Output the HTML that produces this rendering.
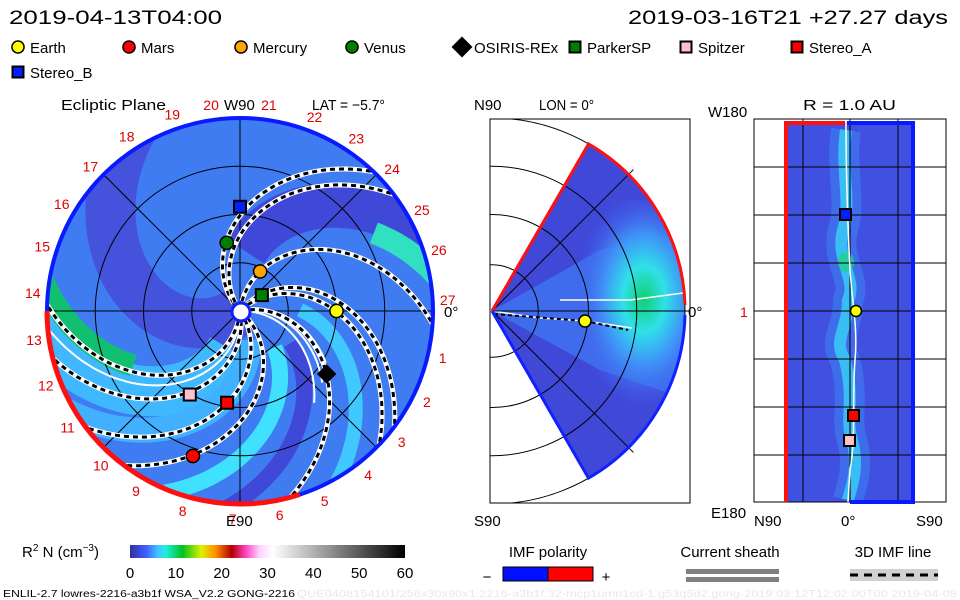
<!DOCTYPE html>
<html><head><meta charset="utf-8"><style>
html,body{margin:0;padding:0;background:#fff;}
svg{display:block;font-family:"Liberation Sans",sans-serif;}
</style></head><body>
<svg id="s" width="960" height="600" viewBox="0 0 960 600" xmlns="http://www.w3.org/2000/svg">
<defs>
 <clipPath id="cc"><circle cx="240" cy="311" r="193"/></clipPath>
 <clipPath id="wc"><path d="M492,311 L588.5,143.9 A193,193 0 0,1 588.5,478.1 Z"/></clipPath>
 <clipPath id="fc"><rect x="490" y="119" width="200" height="384"/></clipPath>
 <radialGradient id="wg" cx="0.6" cy="0.45" r="0.5">
  <stop offset="0" stop-color="#10d070"/><stop offset="0.3" stop-color="#30e0e8"/><stop offset="0.6" stop-color="#4090f8"/><stop offset="1" stop-color="#4058e8" stop-opacity="0"/>
 </radialGradient>
</defs>
<text x="9" y="24" font-size="19" textLength="213" lengthAdjust="spacingAndGlyphs">2019-04-13T04:00</text>
<text x="628" y="24" font-size="19" textLength="320" lengthAdjust="spacingAndGlyphs">2019-03-16T21 +27.27 days</text>
<g id="legend" font-size="15"></g>

<g>
 <text x="61" y="110" font-size="15" textLength="105" lengthAdjust="spacingAndGlyphs">Ecliptic Plane</text>
 <text x="312" y="110" font-size="15" textLength="73" lengthAdjust="spacingAndGlyphs">LAT = −5.7°</text>
 <g clip-path="url(#cc)">
  <circle cx="240" cy="311" r="193" fill="#3f7cf2"/>
  <g id="bands"></g>
  <g id="grid1" stroke="#000" stroke-width="1" fill="none"></g>
  <g id="sheath" fill="none" stroke="#fff" stroke-width="2"></g>
  <g id="arms" fill="none"></g>
 </g>
 <path id="ringblue" fill="none" stroke="#0a1aff" stroke-width="4"/>
 <path id="ringred" fill="none" stroke="#ff1010" stroke-width="5"/>
 <circle cx="241" cy="312" r="9" fill="#fff" stroke="#1020ff" stroke-width="3"/>
 <g id="dates" fill="#e00000" font-size="14"></g>
 <text x="224" y="110" font-size="15">W90</text>
 <text x="226" y="526" font-size="15">E90</text>
 <text x="444" y="317" font-size="15">0°</text>
 <g id="planets1"></g>
</g>

<g>
 <text x="474" y="110" font-size="15">N90</text>
 <text x="539" y="110" font-size="15" textLength="55" lengthAdjust="spacingAndGlyphs">LON = 0°</text>
 <text x="474" y="526" font-size="15">S90</text>
 <text x="688" y="317" font-size="15">0°</text>
 <g clip-path="url(#wc)">
  <rect x="490" y="119" width="200" height="384" fill="#4048d8"/>
  <path d="M492,311 L600,250 L690,230 L690,400 L600,370 Z" fill="#3f70f0" opacity="0.9"/>
  <rect x="560" y="200" width="140" height="220" fill="url(#wg)"/>
  <path d="M492,311 L540,318 L585,321 L632,328 M560,300 L630,300 L683,293" fill="none" stroke="#fff" stroke-width="1.5"/>
  <path d="M494,314 L585,321 L628,330" fill="none" stroke="#000" stroke-width="2" stroke-dasharray="4,3"/>
 </g>
 <g clip-path="url(#fc)" stroke="#000" fill="none" stroke-width="1" id="grid2"></g>
 <rect x="490" y="119" width="200" height="384" fill="none" stroke="#000" stroke-width="1"/>
 <path d="M492,311 L588.5,143.9 A193,193 0 0,1 685,305" fill="none" stroke="#ff1010" stroke-width="3"/>
 <path d="M492,311 L588.5,478.1 A193,193 0 0,0 685,315" fill="none" stroke="#1020ff" stroke-width="3"/>
 <circle cx="585" cy="321" r="6" fill="#ffff00" stroke="#000" stroke-width="1.5"/>
</g>

<g>
 <text x="803" y="110" font-size="15" textLength="93" lengthAdjust="spacingAndGlyphs">R = 1.0 AU</text>
 <text x="708" y="117" font-size="15">W180</text>
 <text x="711" y="518" font-size="15">E180</text>
 <text x="754" y="526" font-size="15">N90</text>
 <text x="841" y="526" font-size="15">0°</text>
 <text x="916" y="526" font-size="15">S90</text>
 <text x="740" y="317" font-size="14" fill="#e00000">1</text>
 <rect x="786" y="122" width="128" height="380" fill="#4050e0"/>
 <path d="M846,130 C840,170 852,200 843,230 C835,260 858,280 848,300 C848,330 832,340 845,360 C855,400 845,420 852,440 C860,470 850,490 848,500" fill="none" stroke="#3f8ff8" stroke-width="30" opacity="0.45"/>
 <path d="M846,130 C840,170 852,200 843,230 C835,260 858,280 848,300 C848,330 832,340 845,360 C855,400 845,420 852,440 C860,470 850,490 848,500" fill="none" stroke="#38d8f8" stroke-width="12" opacity="0.75"/>
 <ellipse cx="846" cy="262" rx="8" ry="10" fill="#20d090" opacity="0.8"/>
 <g id="grid3" stroke="#000" stroke-width="1"></g>
 <rect x="754" y="119" width="192" height="383" fill="none" stroke="#000"/>
 <path d="M846,122 C846,170 848,230 850,270 C852,300 858,330 855,360 C852,400 856,440 850,470 L848,502" fill="none" stroke="#fff" stroke-width="1.5"/>
 <path d="M786,502 L786,123 L845,123" fill="none" stroke="#ff1010" stroke-width="4"/>
 <path d="M847,123 L913,123 L913,502 L850,502" fill="none" stroke="#0a1aff" stroke-width="4"/>
 <rect x="840" y="209" width="11" height="11" fill="#0020ff" stroke="#000" stroke-width="2"/>
 <circle cx="856" cy="311" r="5.5" fill="#ffff00" stroke="#000" stroke-width="1.5"/>
 <rect x="848" y="410" width="11" height="11" fill="#ff0000" stroke="#000" stroke-width="2"/>
 <rect x="844" y="435" width="11" height="11" fill="#ffc0cb" stroke="#000" stroke-width="2"/>
</g>

<g>
 <text x="22" y="557" font-size="15">R<tspan font-size="10" dy="-6">2</tspan><tspan dy="6"> N (cm</tspan><tspan font-size="10" dy="-6">−3</tspan><tspan dy="6">)</tspan></text>
 <defs><linearGradient id="cb" x1="0" x2="1">
  <stop offset="0" stop-color="#3030a0"/><stop offset="0.06" stop-color="#4060ff"/><stop offset="0.1" stop-color="#40c0ff"/><stop offset="0.13" stop-color="#20f0e0"/><stop offset="0.19" stop-color="#00c020"/><stop offset="0.26" stop-color="#e0f000"/><stop offset="0.31" stop-color="#ff9000"/><stop offset="0.37" stop-color="#b00000"/><stop offset="0.42" stop-color="#ff40c0"/><stop offset="0.47" stop-color="#ffd0ff"/><stop offset="0.52" stop-color="#ffffff"/><stop offset="1" stop-color="#000"/>
 </linearGradient></defs>
 <rect x="130" y="545" width="275" height="13" fill="url(#cb)"/>
 <g id="cbticks" font-size="15" text-anchor="middle"></g>
 <text x="548" y="557" font-size="15" text-anchor="middle">IMF polarity</text>
 <rect x="503" y="567" width="45" height="14" fill="#0010ff" stroke="#000"/>
 <rect x="548" y="567" width="45" height="14" fill="#ff0000" stroke="#000"/>
 <text x="487" y="582" font-size="15" text-anchor="middle">−</text>
 <text x="606" y="582" font-size="15" text-anchor="middle">+</text>
 <text x="730" y="557" font-size="15" text-anchor="middle">Current sheath</text>
 <rect x="686" y="569" width="93" height="5" fill="#808080"/>
 <rect x="686" y="577" width="93" height="5" fill="#808080"/>
 <text x="893" y="557" font-size="15" text-anchor="middle">3D IMF line</text>
 <rect x="850" y="569" width="88" height="12" fill="#d0d0d0"/>
 <line x1="850" y1="575" x2="938" y2="575" stroke="#000" stroke-width="3" stroke-dasharray="8,6"/>
 <text x="3" y="597" font-size="10" textLength="292" lengthAdjust="spacingAndGlyphs">ENLIL-2.7 lowres-2216-a3b1f WSA_V2.2 GONG-2216</text>
 <text x="297" y="597" font-size="10" fill="#e8e8e8" textLength="660" lengthAdjust="spacingAndGlyphs">QUE0408154101/256x30x90x1.2216-a3b1f.32-mcp1umn1cd-1.g53q5d2.gong-2019:03:12T12:02:00T00 2019-04-08</text>
</g>
</svg>
<script>
// ---- data ----
const planetNames = ["Earth","Mars","Mercury","Venus","OSIRIS-REx","ParkerSP","Spitzer","Stereo_A","Stereo_B"];
const planetR = [1.0, 1.58, 0.46, 0.72, 1.11, 0.28, 1.01, 0.96, 1.08];      // AU
const planetLon = [0, -108, 63, 101, -36, 36, -121, -98, 90];              // deg
const planetColor = ["#ffff00","#ff0000","#ffa500","#008000","#000000","#008000","#ffc0cb","#ff0000","#0020ff"];
const planetShape = ["c","c","c","c","d","s","s","s","s"];
const armStart = [133, 124, 83, 50, 43, 12, -40, -56, -79, -95];           // deg at r=0
const sheathStart = [-88, 14, 8, 2];
const dateLabels = ["20","19","18","17","16","15","14","13","12","11","10","9","8","7","6","5","4","3","2","1","27","26","25","24","23","22","21"];
const dateAngles = [98,109,123,136,149,162,175,188,201,214,228,240,254,268,281,294,308,321,334,347,3,17,29,43,56,69,82];
const cbTicks = [0,10,20,30,40,50,60];

const NS="http://www.w3.org/2000/svg";
const cx=240, cy=311, R=193, AU=96.5, K=0.45;
function mk(tag,attrs,parent){const e=document.createElementNS(NS,tag);for(const k in attrs)e.setAttribute(k,attrs[k]);parent.appendChild(e);return e;}
function px(rAU,deg){const a=deg*Math.PI/180;return [cx+rAU*AU*Math.cos(a), cy-rAU*AU*Math.sin(a)];}
function spiral(th0,r0,r1){let d="";for(let r=r0;r<=r1;r+=3){const a=(th0-K*r)*Math.PI/180;d+=(d?"L":"M")+(cx+r*Math.cos(a)).toFixed(1)+","+(cy-r*Math.sin(a)).toFixed(1);}return d;}
function marker(g,shape,x,y,col,s){
  if(shape==="c") return mk("circle",{cx:x,cy:y,r:s*0.55,fill:col,stroke:"#000","stroke-width":1.5},g);
  if(shape==="s") return mk("rect",{x:x-s/2,y:y-s/2,width:s,height:s,fill:col,stroke:"#000","stroke-width":2},g);
  return mk("path",{d:`M${x},${y-s*0.75}L${x+s*0.75},${y}L${x},${y+s*0.75}L${x-s*0.75},${y}Z`,fill:col,stroke:"#000"},g);
}
// bands
const bands=document.getElementById('bands');
[[216,50,"#4452dc",0],[112,45,"#4048d8",60],[100,22,"#30e0c0",155],[-84,50,"#40b8ff",40],[-24,16,"#40e0ff",50],[-99,22,"#10c070",120],[-60,25,"#40b0ff",30],[28,14,"#40c8ff",60],[-5,16,"#4048d8",60]].forEach(b=>{
  const p=mk("path",{d:spiral(b[0],b[3],260),stroke:b[2],"stroke-width":b[1],fill:"none","stroke-linecap":"butt"},bands);
  
  
});
// grid
const g1=document.getElementById('grid1');
[0.5,1,1.5].forEach(r=>mk("circle",{cx,cy,r:r*AU},g1));
[0,45,90,135].forEach(a=>{const p=px(2,a),q=px(2,a+180);mk("line",{x1:p[0],y1:p[1],x2:q[0],y2:q[1]},g1);});
// sheath lines
const sh=document.getElementById('sheath');
sheathStart.forEach((t,i)=>{
  const p=mk("path",{d:spiral(t,10,i===0?200:90+i*10)},sh);
  
  
});
// arms
const arms=document.getElementById('arms');
armStart.forEach(t=>{
  const d=spiral(t,10,200);
  mk("path",{d,stroke:"#fff","stroke-width":5},arms);
  const p=mk("path",{d,stroke:"#000","stroke-width":3,"stroke-dasharray":"5,4"},arms);
  
  
});
// ring
function arc(a0,a1){const p=[cx+R*Math.cos(a0*Math.PI/180),cy-R*Math.sin(a0*Math.PI/180)],q=[cx+R*Math.cos(a1*Math.PI/180),cy-R*Math.sin(a1*Math.PI/180)];const large=((a1-a0+360)%360)>180?1:0;return `M${p[0]},${p[1]}A${R},${R} 0 ${large},0 ${q[0]},${q[1]}`;}
document.getElementById('ringblue').setAttribute('d',arc(-72,180));
document.getElementById('ringred').setAttribute('d',arc(180,288));
// dates
const dg=document.getElementById('dates');
dateLabels.forEach((l,i)=>{
  const a=dateAngles[i]*Math.PI/180;
  const x=cx+208*Math.cos(a), y=cy-208*Math.sin(a);
  const t=mk("text",{x:x.toFixed(1),y:(y+5).toFixed(1),"text-anchor":"middle"},dg);
  t.textContent=l;
  
  
});
// planets
const pg=document.getElementById('planets1');
planetNames.forEach((n,i)=>{
  const p=px(planetR[i],planetLon[i]);
  const m=marker(pg,planetShape[i],p[0],p[1],planetColor[i],12);
  
  
});
// legend
const lg=document.getElementById('legend');
const legX=[18,129,241,352,462,575,686,797,18], legY=[47,47,47,47,47,47,47,47,72];
planetNames.forEach((n,i)=>{
  const m=marker(lg,planetShape[i],legX[i],legY[i],planetColor[i],i===4?13:11);
  
  
  const t=mk("text",{x:legX[i]+12,y:legY[i]+6},lg);
  t.textContent=n;
  
  
});
// meridional grid
const g2=document.getElementById('grid2');
[0.5,1,1.5].forEach(r=>mk("circle",{cx:492,cy:311,r:r*AU+(r===0.5?-2:0)},g2));
mk("circle",{cx:492,cy:311,r:193},g2);
[45,-45,0].forEach(a=>{const t=a*Math.PI/180;mk("line",{x1:492,y1:311,x2:492+200*Math.cos(t),y2:311-200*Math.sin(t)},g2);});
// sphere grid
const g3=document.getElementById('grid3');
[803,850,898].forEach(x=>mk("line",{x1:x,y1:119,x2:x,y2:502},g3));
[167,215,263,311,359,407,455].forEach(y=>mk("line",{x1:754,y1:y,x2:946,y2:y},g3));
// colorbar ticks
const cg=document.getElementById('cbticks');
cbTicks.forEach(v=>{
  const x=130+v/60*275;
  const t=mk("text",{x:x,y:578},cg);
  t.textContent=v;
  
  
});
</script>
</body></html>
